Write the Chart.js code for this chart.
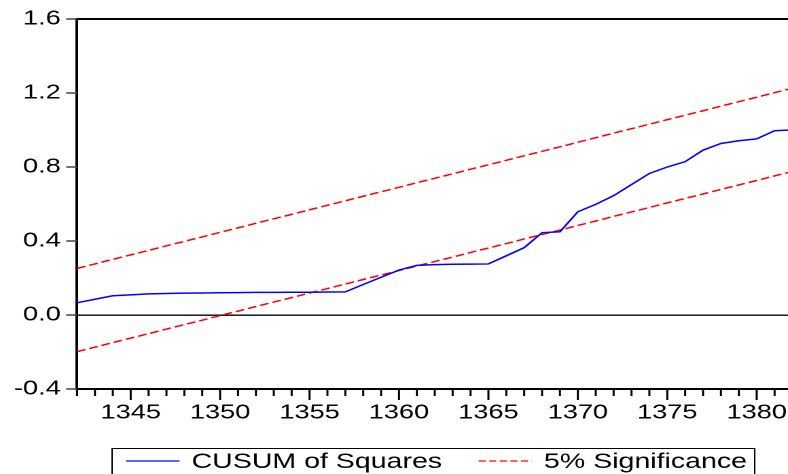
<!DOCTYPE html>
<html>
<head>
<meta charset="utf-8">
<script src="https://cdn.jsdelivr.net/npm/chart.js@4.4.1/dist/chart.umd.min.js"></script>
<style>
  html, body { margin: 0; padding: 0; background: #fff; overflow: hidden; }
  /* the reference is horizontally stretched, so draw narrow and stretch */
  #wrap { width: 580px; height: 474px; transform: scaleX(1.3586); transform-origin: 0 0; }
</style>
</head>
<body>
<div id="wrap"><canvas id="cusumChart" width="580" height="474"></canvas></div>
<script>
// data
const years = [1342, 1343, 1344, 1345, 1346, 1347, 1348, 1349, 1350, 1351,
  1352, 1353, 1354, 1355, 1356, 1357, 1358, 1359, 1360, 1361,
  1362, 1363, 1364, 1365, 1366, 1367, 1368, 1369, 1370, 1371,
  1372, 1373, 1374, 1375, 1376, 1377, 1378, 1379, 1380, 1381, 1382];
const cusumSq = [0.066, 0.085, 0.104, 0.109, 0.114, 0.116, 0.118, 0.119, 0.120, 0.121,
  0.122, 0.122, 0.123, 0.123, 0.124, 0.125, 0.165, 0.204, 0.243, 0.268,
  0.272, 0.274, 0.275, 0.276, 0.320, 0.364, 0.445, 0.450, 0.558, 0.598,
  0.645, 0.705, 0.765, 0.800, 0.829, 0.891, 0.927, 0.942, 0.952, 0.996, 1.000];
const upper5 = [0.252, 0.276, 0.301, 0.325, 0.349, 0.374, 0.398, 0.422, 0.447, 0.471,
  0.496, 0.520, 0.544, 0.569, 0.593, 0.617, 0.642, 0.666, 0.690, 0.715,
  0.739, 0.763, 0.788, 0.812, 0.836, 0.861, 0.885, 0.909, 0.934, 0.958,
  0.983, 1.007, 1.031, 1.056, 1.080, 1.104, 1.129, 1.153, 1.177, 1.202, 1.226];
const lower5 = [-0.198, -0.174, -0.149, -0.125, -0.101, -0.076, -0.052, -0.028, -0.003, 0.021,
  0.046, 0.070, 0.094, 0.119, 0.143, 0.167, 0.192, 0.216, 0.240, 0.265,
  0.289, 0.313, 0.338, 0.362, 0.386, 0.411, 0.435, 0.459, 0.484, 0.508,
  0.533, 0.557, 0.581, 0.606, 0.630, 0.654, 0.679, 0.703, 0.727, 0.752, 0.776];
const xLabelYears = [1345, 1350, 1355, 1360, 1365, 1370, 1375, 1380];
const yTickValues = [-0.4, 0.0, 0.4, 0.8, 1.2, 1.6];

const FONT = '"Liberation Sans", Arial, sans-serif';

function pts(vals) {
  return years.map((yr, i) => ({ x: yr, y: vals[i] }));
}

// tick marks (long every 5 years, short otherwise), top frame line and boxed legend
const eviewsPlugin = {
  id: 'eviews',
  afterDraw(chart) {
    const ctx = chart.ctx;
    const xs = chart.scales.x;
    const ys = chart.scales.y;
    const area = chart.chartArea;
    ctx.save();
    ctx.strokeStyle = '#000';
    ctx.lineWidth = 1.5;
    years.forEach(yr => {
      const px = xs.getPixelForValue(yr);
      if (px < area.left - 1 || px > area.right + 1) return;
      const len = yr % 5 === 0 ? 11 : 7;
      ctx.beginPath();
      ctx.moveTo(px, area.bottom);
      ctx.lineTo(px, area.bottom + len);
      ctx.stroke();
    });
    ctx.strokeStyle = '#444';
    ctx.lineWidth = 1.5;
    yTickValues.forEach(v => {
      const py = ys.getPixelForValue(v);
      ctx.beginPath();
      ctx.moveTo(area.left - 8, py);
      ctx.lineTo(area.left, py);
      ctx.stroke();
    });
    // top frame
    ctx.strokeStyle = '#000';
    ctx.lineWidth = 2;
    ctx.beginPath();
    ctx.moveTo(area.left, area.top);
    ctx.lineTo(area.right, area.top);
    ctx.stroke();

    // legend
    const ly = 461;
    ctx.lineWidth = 1;
    ctx.strokeStyle = '#000';
    ctx.strokeRect(82.5, 448.5, 473, 40);
    ctx.lineWidth = 1.3;
    ctx.strokeStyle = '#0000ff';
    ctx.beginPath();
    ctx.moveTo(92.7, ly);
    ctx.lineTo(132.1, ly);
    ctx.stroke();
    ctx.strokeStyle = '#ff0000';
    ctx.setLineDash([5.2, 2.6]);
    ctx.beginPath();
    ctx.moveTo(352.3, ly);
    ctx.lineTo(391.6, ly);
    ctx.stroke();
    ctx.setLineDash([]);
    ctx.fillStyle = '#000';
    ctx.font = '21px ' + FONT;
    ctx.textBaseline = 'middle';
    ctx.textAlign = 'left';
    ctx.fillText('CUSUM of Squares', 141, ly + 1);
    ctx.fillText('5% Significance', 400.4, ly + 1);
    ctx.restore();
  }
};

const chart = new Chart(document.getElementById('cusumChart').getContext('2d'), {
  type: 'line',
  data: {
    datasets: [{
      label: 'CUSUM of Squares',
      data: pts(cusumSq),
      borderColor: '#0000ff',
      borderWidth: 1.5,
      pointRadius: 0,
      tension: 0
    }, {
      label: '5% Significance',
      data: pts(upper5),
      borderColor: '#ff0000',
      borderWidth: 1.5,
      borderDash: [6.5, 3],
      pointRadius: 0
    }, {
      label: '5% Significance',
      data: pts(lower5),
      borderColor: '#ff0000',
      borderWidth: 1.5,
      borderDash: [6.5, 3],
      pointRadius: 0
    }]
  },
  options: {
    responsive: false,
    animation: false,
    devicePixelRatio: 2,
    layout: { padding: { top: 19, left: 0, right: 0, bottom: 0 } },
    plugins: {
      legend: { display: false },
      tooltip: { enabled: false }
    },
    scales: {
      x: {
        type: 'linear',
        min: 1342,
        max: 1381.75,
        afterFit: s => { s.height = 85; s.paddingLeft = 0; s.paddingRight = 0; },
        afterBuildTicks: s => { s.ticks = xLabelYears.map(v => ({ value: v })); },
        grid: { display: false, drawTicks: false },
        border: { display: true, color: '#000', width: 2 },
        ticks: {
          color: '#000',
          font: { family: FONT, size: 20 },
          padding: 12,
          maxRotation: 0,
          autoSkip: false,
          callback: v => String(v)
        }
      },
      y: {
        min: -0.4,
        max: 1.6,
        afterFit: s => { s.width = 56.7; s.paddingTop = 0; s.paddingBottom = 0; },
        afterBuildTicks: s => { s.ticks = yTickValues.map(v => ({ value: v })); },
        grid: {
          drawTicks: false,
          color: c => Math.abs(c.tick.value) < 1e-9 ? '#000' : 'rgba(0,0,0,0)',
          lineWidth: 1.4
        },
        border: { display: true, color: '#000', width: 2 },
        ticks: {
          color: '#000',
          font: { family: FONT, size: 20 },
          padding: 12,
          callback: v => v.toFixed(1)
        }
      }
    }
  },
  plugins: [eviewsPlugin]
});
</script>
</body>
</html>
